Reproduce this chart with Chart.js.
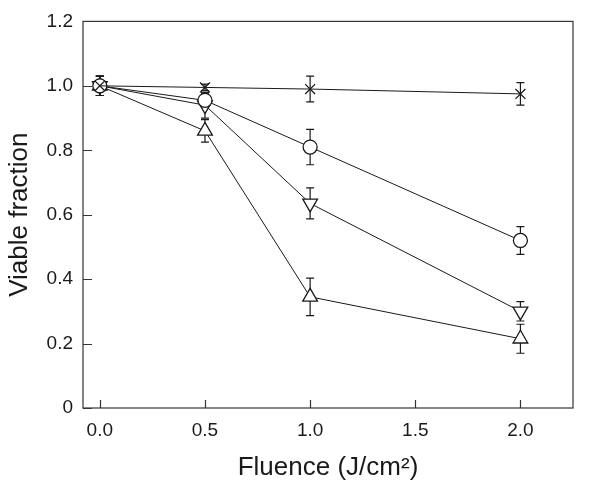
<!DOCTYPE html>
<html>
<head>
<meta charset="utf-8">
<script src="https://cdn.jsdelivr.net/npm/chart.js@4"></script>
<style>
  html, body { margin: 0; padding: 0; background: #fff; }
  #wrap { width: 600px; height: 487px; }
</style>
</head>
<body>
<div id="wrap"><canvas id="chart"></canvas></div>
<script>
'use strict';

// ------------------------------------------------------- //
// Data
// ------------------------------------------------------ //
var fluence = [0, 0.5, 1.0, 2.0];

var crossY = [1.0, 0.995, 0.99, 0.975];
var crossErr = [0.03, 0.01, 0.04, 0.035];

var circleY = [1.0, 0.955, 0.81, 0.52];
var circleErr = [0.03, 0.02, 0.055, 0.043];

var downTriY = [1.0, 0.94, 0.635, 0.30];
var downTriErr = [0.03, 0.04, 0.048, 0.03];

var upTriY = [1.0, 0.86, 0.345, 0.215];
var upTriErr = [0.03, 0.035, 0.058, 0.045];

var xTickValues = [0, 0.5, 1.0, 1.5, 2.0];
var xTickLabels = ['0.0', '0.5', '1.0', '1.5', '2.0'];
var yTickValues = [0, 0.2, 0.4, 0.6, 0.8, 1.0, 1.2];
var yTickLabels = ['0', '0.2', '0.4', '0.6', '0.8', '1.0', '1.2'];

function points(ys) {
    return fluence.map(function(x, i) { return { x: x, y: ys[i] }; });
}

var FONT = 'Liberation Sans, Arial, Helvetica, sans-serif';
var INK = '#1a1a1a';

function series(ys, errs, style, radius, rotation, fill) {
    return {
        data: points(ys),
        errors: errs,
        borderColor: INK,
        borderWidth: 1,
        pointStyle: style,
        pointRadius: radius,
        pointRotation: rotation,
        pointBorderColor: INK,
        pointBorderWidth: 1.3,
        pointBackgroundColor: fill,
        showLine: true,
        tension: 0
    };
}

// ------------------------------------------------------- //
// Error bars, frame and inward ticks
// ------------------------------------------------------ //
var errorBars = {
    id: 'errorBars',
    beforeDatasetsDraw: function(chart) {
        var ctx = chart.ctx, xs = chart.scales.x, ys = chart.scales.y;
        ctx.save();
        ctx.strokeStyle = INK;
        ctx.lineWidth = 1.2;
        chart.data.datasets.forEach(function(ds) {
            ds.data.forEach(function(p, i) {
                var e = ds.errors[i];
                var px = xs.getPixelForValue(p.x);
                var top = ys.getPixelForValue(p.y + e);
                var bot = ys.getPixelForValue(p.y - e);
                ctx.beginPath();
                ctx.moveTo(px, top); ctx.lineTo(px, bot);
                ctx.moveTo(px - 4, top); ctx.lineTo(px + 4, top);
                ctx.moveTo(px - 4, bot); ctx.lineTo(px + 4, bot);
                ctx.stroke();
            });
        });
        ctx.restore();
    }
};

var frame = {
    id: 'frame',
    afterDraw: function(chart) {
        var ctx = chart.ctx, a = chart.chartArea;
        var xs = chart.scales.x, ys = chart.scales.y;
        ctx.save();
        ctx.strokeStyle = '#333';
        ctx.lineWidth = 1.2;
        ctx.strokeRect(a.left, a.top, a.right - a.left, a.bottom - a.top);
        ctx.beginPath();
        xTickValues.forEach(function(v) {
            var px = Math.round(xs.getPixelForValue(v)) + 0.5;
            ctx.moveTo(px, a.bottom); ctx.lineTo(px, a.bottom - 8);
        });
        yTickValues.forEach(function(v) {
            var py = Math.round(ys.getPixelForValue(v)) + 0.5;
            ctx.moveTo(a.left, py); ctx.lineTo(a.left + 9, py);
        });
        ctx.stroke();
        ctx.restore();
    }
};

// ------------------------------------------------------- //
// Chart
// ------------------------------------------------------ //
var chart = new Chart(document.getElementById('chart'), {
    type: 'scatter',
    data: {
        datasets: [
            series(crossY, crossErr, 'crossRot', 7, 0, 'rgba(0,0,0,0)'),
            series(circleY, circleErr, 'circle', 7, 0, '#fff'),
            series(downTriY, downTriErr, 'triangle', 8.5, 180, '#fff'),
            series(upTriY, upTriErr, 'triangle', 8.5, 0, '#fff')
        ]
    },
    options: {
        responsive: true,
        maintainAspectRatio: false,
        animation: false,
        layout: { padding: { top: 17, right: 27, left: 0, bottom: 0 } },
        plugins: {
            legend: { display: false },
            tooltip: { enabled: false }
        },
        scales: {
            x: {
                type: 'linear',
                min: -0.08,
                max: 2.25,
                afterBuildTicks: function(s) {
                    s.ticks = xTickValues.map(function(v) { return { value: v }; });
                },
                afterFit: function(s) { s.height = 79; },
                grid: { display: false, drawTicks: false },
                border: { display: false },
                ticks: {
                    color: INK,
                    padding: 11,
                    font: { family: FONT, size: 19 },
                    callback: function(v, i) { return xTickLabels[i]; }
                },
                title: {
                    display: true,
                    text: 'Fluence (J/cm\u00b2)',
                    color: INK,
                    font: { family: FONT, size: 26 },
                    padding: { top: 4 }
                }
            },
            y: {
                type: 'linear',
                min: 0,
                max: 1.2,
                afterBuildTicks: function(s) {
                    s.ticks = yTickValues.map(function(v) { return { value: v }; });
                },
                afterFit: function(s) { s.width = 83; },
                grid: { display: false, drawTicks: false },
                border: { display: false },
                ticks: {
                    color: INK,
                    padding: 10,
                    font: { family: FONT, size: 19 },
                    callback: function(v, i) { return yTickLabels[i]; }
                },
                title: {
                    display: true,
                    text: 'Viable fraction',
                    color: INK,
                    font: { family: FONT, size: 26 },
                    padding: { bottom: 2 }
                }
            }
        }
    },
    plugins: [errorBars, frame]
});
</script>
</body>
</html>
